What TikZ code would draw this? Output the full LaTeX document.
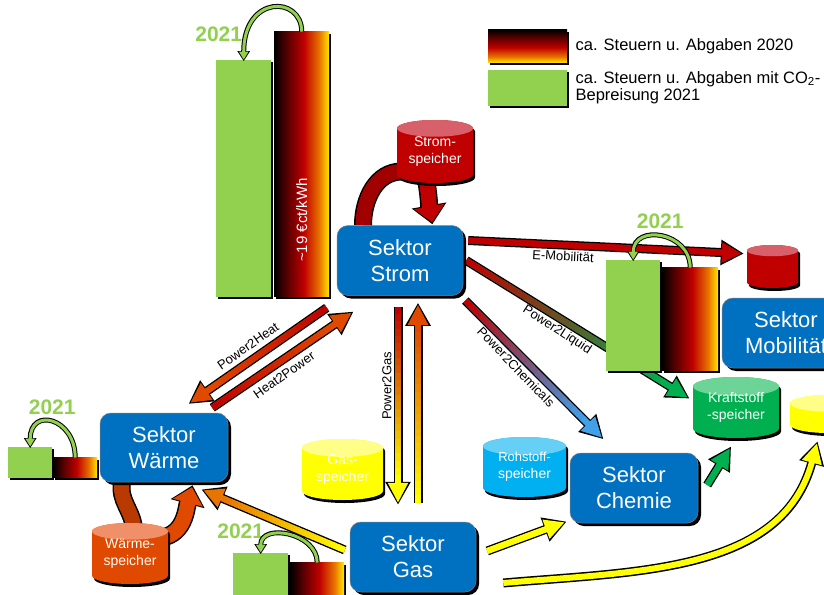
\documentclass[tikz,border=0pt]{standalone}
\usepackage{fontspec}
\setmainfont{Liberation Sans}
\usetikzlibrary{arrows.meta,calc,positioning,shadows,backgrounds}

\definecolor{boxblue}{HTML}{0070C0}
\definecolor{barg}{HTML}{92D050}
\definecolor{taxred}{HTML}{C00000}
\definecolor{taxdark}{HTML}{5A0000}
\definecolor{taxorange}{HTML}{E87400}
\definecolor{taxyellow}{HTML}{FFEA00}
\definecolor{strtop}{HTML}{D8606A}
\definecolor{loopred}{HTML}{A00000}
\definecolor{heatorange}{HTML}{E04A00}
\definecolor{heatdark}{HTML}{B83A00}
\definecolor{heattop}{HTML}{F09068}
\definecolor{gasyellow}{HTML}{FFFF00}
\definecolor{gastop}{HTML}{FFFF88}
\definecolor{rohblue}{HTML}{00B0F0}
\definecolor{rohtop}{HTML}{66CFF6}
\definecolor{fuelgreen}{HTML}{00B050}
\definecolor{fueltop}{HTML}{6CD496}
\definecolor{chemblue}{HTML}{40A0E8}

\pgfdeclarehorizontalshading{taxgrad}{100bp}{color(0bp)=(black); color(25bp)=(black); color(37bp)=(taxdark); color(52bp)=(taxred); color(66bp)=(taxorange); color(75bp)=(taxyellow); color(100bp)=(taxyellow)}
\pgfdeclareverticalshading{taxgradv}{100bp}{color(0bp)=(taxyellow); color(25bp)=(taxyellow); color(34bp)=(taxorange); color(48bp)=(taxred); color(63bp)=(taxdark); color(75bp)=(black); color(100bp)=(black)}

% thick arrow, colour runs from #3 to #4
\newcommand\sectorflow[4]{%
  \coordinate (fa) at (#1);
  \coordinate (fe) at (#2);
  \coordinate (fb) at ($(fe)!20pt!(fa)$);
  \draw[flowback] (fa) -- (fe);
  \draw[flowhead, #4] (fa) -- (fe);
  \foreach \k in {0,...,23}{%
    \pgfmathsetmacro\ta{\k/24}%
    \pgfmathsetmacro\tb{(\k+1.3)/24}%
    \pgfmathtruncatemacro\pc{100-100*\k/23}%
    \draw[flowline, #3!\pc!#4] ($(fa)!\ta!(fb)$) -- ($(fa)!\tb!(fb)$);
  }%
}

% storage tank: name, x, y, width, height, body, top, text
\newcommand\speicher[8]{%
  \pgfmathsetmacro\tkrx{#4/2}%
  \pgfmathsetmacro\tkry{0.11*#4}%
  \pgfmathsetmacro\tkyt{#3-#5/2+\tkry}%
  \pgfmathsetmacro\tkyb{#3+#5/2-\tkry}%
  \pgfmathsetmacro\tkxl{#2-\tkrx}%
  \pgfmathsetmacro\tkxr{#2+\tkrx}%
  \fill[black, shift={(2,3)}] (\tkxl,\tkyt) -- (\tkxl,\tkyb) arc[start angle=180,end angle=360,x radius=\tkrx pt,y radius=\tkry pt] -- (\tkxr,\tkyt) arc[start angle=0,end angle=180,x radius=\tkrx pt,y radius=\tkry pt] -- cycle;
  \fill[#6] (\tkxl,\tkyt) -- (\tkxl,\tkyb) arc[start angle=180,end angle=360,x radius=\tkrx pt,y radius=\tkry pt] -- (\tkxr,\tkyt) arc[start angle=0,end angle=180,x radius=\tkrx pt,y radius=\tkry pt] -- cycle;
  \fill[#7] (#2,\tkyt) ellipse[x radius=\tkrx pt, y radius=\tkry pt];
  \node (#1) [tanklbl, minimum width=#4pt, minimum height=#5pt] at (#2,#3) {#8};
}

\begin{document}
\begin{tikzpicture}[x=1pt,y=-1pt,
sektor/.style={rounded corners=11pt, fill=boxblue, draw=black!50, line width=0.5pt, text=white, align=center, inner sep=0pt, minimum width=126pt, minimum height=70pt, font=\fontsize{22}{26}\selectfont, drop shadow={shadow xshift=3pt, shadow yshift=-3pt, opacity=1, fill=black}},
tanklbl/.style={text=white, align=center, inner sep=0pt, font=\fontsize{14}{17}\selectfont, execute at begin node={\rule{0pt}{24pt}}},
greenbar/.style={fill=barg, inner sep=0pt, anchor=south west, drop shadow={shadow xshift=2pt, shadow yshift=-2pt, opacity=1, fill=black}},
taxbar/.style={shade, shading=taxgrad, inner sep=0pt, anchor=south west, drop shadow={shadow xshift=2pt, shadow yshift=-2pt, opacity=1, fill=black}},
yr/.style={text=barg, inner sep=0pt, font=\bfseries\fontsize{21}{21}\selectfont},
yearback/.style={line width=5pt, black, -{Triangle[length=10pt,width=12pt]}, shorten >=-1.5pt},
yeararrow/.style={line width=3pt, barg, -{Triangle[length=8pt,width=9pt]}},
flowback/.style={line width=9pt, black, -{Triangle[length=23pt,width=24pt]}, shorten >=-2pt},
flowhead/.style={line width=6pt, -{Triangle[length=20pt,width=19pt]}},
flowline/.style={line width=6pt},
storeback/.style={line width=18pt, black, -{Triangle[length=19pt,width=34pt]}, shorten >=-2pt},
storearrow/.style={line width=15pt, -{Triangle[length=16pt,width=30pt]}},
bandback/.style={line width=18pt, black},
storeband/.style={line width=15pt},
flowlbl/.style={inner sep=1pt, font=\fontsize{13}{13}\selectfont},
legtext/.style={inner sep=0pt, align=left, font=\fontsize{16.5}{17.5}\selectfont}
]
    \useasboundingbox (0,0) rectangle (824,594);

    % Sektoren
    \node (strom) [sektor] at (400,260.5) {Sektor\\Strom};
    \node (waerme) [sektor, minimum width=128pt, minimum height=69pt] at (164,447.5) {Sektor\\Wärme};
    \node (gas) [sektor] at (413,557) {Sektor\\Gas};
    \node (chemie) [sektor, minimum width=128pt] at (634,488) {Sektor\\Chemie};
    \node (mobil) [sektor, minimum width=128pt] at (786,333) {Sektor\\Mobilität};

    % Speicher
    \speicher{stromsp}{435}{151.5}{76}{63}{taxred}{strtop}{Strom-\\speicher}
    \speicher{waermesp}{130}{553.5}{76}{61}{heatorange}{heattop}{Wärme-\\speicher}
    \speicher{gassp}{342.5}{469.5}{81}{61}{gasyellow}{gastop}{Gas-\\speicher}
    \speicher{rohsp}{524.5}{467}{83}{60}{rohblue}{rohtop}{\fontsize{13}{16}\selectfont Rohstoff-\\speicher}
    \speicher{kraftsp}{736}{407.5}{86}{61}{fuelgreen}{fueltop}{Kraftstoff\\-speicher}
    \speicher{mobsp}{772.5}{266.5}{51}{43}{taxred}{strtop}{}
    \speicher{tanksp}{828}{414}{76}{38}{gasyellow}{gastop}{}

    % Balken
    \node (biggreen) [greenbar, minimum width=55pt, minimum height=237pt] at (216,297) {};
    \node (bigtax) [taxbar, minimum width=55pt, minimum height=265pt] at (274,297) {};
    \node (mobgreen) [greenbar, minimum width=54pt, minimum height=111pt] at (606,371) {};
    \node (mobtax) [taxbar, minimum width=56pt, minimum height=103pt] at (662,371) {};
    \node (heatgreen) [greenbar, minimum width=44pt, minimum height=31pt] at (8,478) {};
    \node (heattax) [taxbar, minimum width=44pt, minimum height=20pt] at (53,478) {};
    \node (gasgreen) [greenbar, minimum width=55pt, minimum height=43pt] at (233,596) {};
    \node (gastax) [taxbar, minimum width=54pt, minimum height=33pt] at (290,596) {};

    \node (ctlbl) [rotate=90, text=white, inner sep=0pt, font=\fontsize{15}{15}\selectfont] at ($(bigtax.south)+(0,-77)$) {\textasciitilde19 €ct/kWh};

    \node (ybig) [yr] at ($(biggreen.north)+(-25,-25)$) {2021};
    \node (ymob) [yr] at ($(mobgreen.north)+(27,-38)$) {2021};
    \node (yheat) [yr] at ($(heatgreen.north)+(22,-39)$) {2021};
    \node (ygas) [yr] at ($(gasgreen.north)+(-20,-21)$) {2021};

    % Legende
    \node (legtax) [shade, shading=taxgradv, inner sep=0pt, anchor=south west, minimum width=79pt, minimum height=33pt, drop shadow={shadow xshift=2pt, shadow yshift=-2pt, opacity=1, fill=black}] at (488,63) {};
    \node (leggreen) [greenbar, minimum width=79pt, minimum height=36pt] at (488,106) {};
    \node (legtxt1) [legtext, right=8pt of legtax] {ca. Steuern u. Abgaben 2020};
    \node (legtxt2) [legtext, right=8pt of leggreen] {ca. Steuern u. Abgaben mit CO\textsubscript{2}-\\Bepreisung 2021};

    \begin{scope}[on background layer]
    \fill[white] (0,0) rectangle (824,594);
    % Speicherschleifen
    \draw[bandback] ([xshift=-37pt]strom.north) to[out=90,in=180] ([xshift=5pt,yshift=-20pt]stromsp.west);
    \draw[storeband, loopred] ([xshift=-37pt]strom.north) to[out=90,in=180] ([xshift=5pt,yshift=-20pt]stromsp.west);
    \draw[storeback] ([xshift=-9pt,yshift=4pt]stromsp.south) to[out=-80,in=100] ([xshift=32pt,yshift=3pt]strom.north);
    \draw[storearrow, taxred] ([xshift=-9pt,yshift=4pt]stromsp.south) to[out=-80,in=100] ([xshift=32pt,yshift=3pt]strom.north);
    \draw[bandback] ([xshift=-42pt]waerme.south) to[out=-100,in=95] ([xshift=4pt,yshift=-6pt]waermesp.north);
    \draw[storeband, heatdark] ([xshift=-42pt]waerme.south) to[out=-100,in=95] ([xshift=4pt,yshift=-6pt]waermesp.north);
    \draw[storeback] ([xshift=-6pt,yshift=16pt]waermesp.east) to[out=10,in=-105] ([xshift=28pt,yshift=-5pt]waerme.south);
    \draw[storearrow, heatorange] ([xshift=-6pt,yshift=16pt]waermesp.east) to[out=10,in=-105] ([xshift=28pt,yshift=-5pt]waerme.south);

    % Kopplungen
    \sectorflow{[xshift=5pt,yshift=20pt]strom.east}{[xshift=-5pt,yshift=13pt]mobsp.west}{taxred}{taxred}
    \sectorflow{[xshift=3pt]strom.east}{[xshift=-5pt,yshift=10pt]kraftsp.west}{taxred}{fuelgreen}
    \sectorflow{[xshift=2pt,yshift=-40pt]strom.east}{[xshift=-32pt,yshift=15pt]chemie.north}{taxred}{chemblue}
    \sectorflow{[xshift=-2pt,yshift=-11pt]strom.south}{[xshift=-15pt,yshift=19pt]gas.north}{taxred}{gasyellow}
    \sectorflow{[xshift=5pt,yshift=19pt]gas.north}{[xshift=18pt,yshift=-9pt]strom.south}{gasyellow}{heatorange}
    \sectorflow{[xshift=-10pt,yshift=-12pt]strom.south west}{[xshift=-38pt,yshift=10pt]waerme.north east}{taxred}{heatorange}
    \sectorflow{[xshift=-16pt,yshift=5pt]waerme.north east}{[xshift=15pt,yshift=-17pt]strom.south west}{taxred}{heatorange}
    \sectorflow{[xshift=-5pt,yshift=7pt]gas.west}{[xshift=-25pt,yshift=-8pt]waerme.south east}{gasyellow}{taxorange}
    \sectorflow{[xshift=11pt,yshift=6pt]gas.east}{[xshift=-5pt,yshift=1pt]chemie.south west}{gasyellow}{gasyellow}
    \sectorflow{[xshift=9pt,yshift=3pt]chemie.east}{[xshift=-6pt,yshift=-10pt]kraftsp.south}{fuelgreen}{fuelgreen}
    \draw[flowback] ([xshift=27pt,yshift=-26pt]gas.east) to[out=5,in=-105] ([xshift=-11pt,yshift=-10pt]tanksp.south);
    \draw[flowhead, gasyellow] ([xshift=27pt,yshift=-26pt]gas.east) to[out=5,in=-105] ([xshift=-11pt,yshift=-10pt]tanksp.south);
    \end{scope}

    % 2021-Pfeile
    \foreach \tx/\gn/\ca/\cb in {bigtax/biggreen/36/65, mobtax/mobgreen/36/36, heattax/heatgreen/40/40, gastax/gasgreen/30/30}{
        \draw[yearback] (\tx.north) .. controls +(0,-\ca) and +(0,-\cb) .. (\gn.north);
        \draw[yeararrow] (\tx.north) .. controls +(0,-\ca) and +(0,-\cb) .. (\gn.north);
    }

    \node (lemob) [flowlbl, rotate=-3] at (563,256) {E-Mobilität};
    \node (lliquid) [flowlbl, rotate=-33] at (557,330) {Power2Liquid};
    \node (lchem) [flowlbl, rotate=-46] at (516,367) {Power2Chemicals};
    \node (lgas) [flowlbl, rotate=90] at (387,386) {Power2Gas};
    \node (lheat) [flowlbl, rotate=35] at (248,346) {Power2Heat};
    \node (lpower) [flowlbl, rotate=35] at (284,375) {Heat2Power};
\end{tikzpicture}
\end{document}
